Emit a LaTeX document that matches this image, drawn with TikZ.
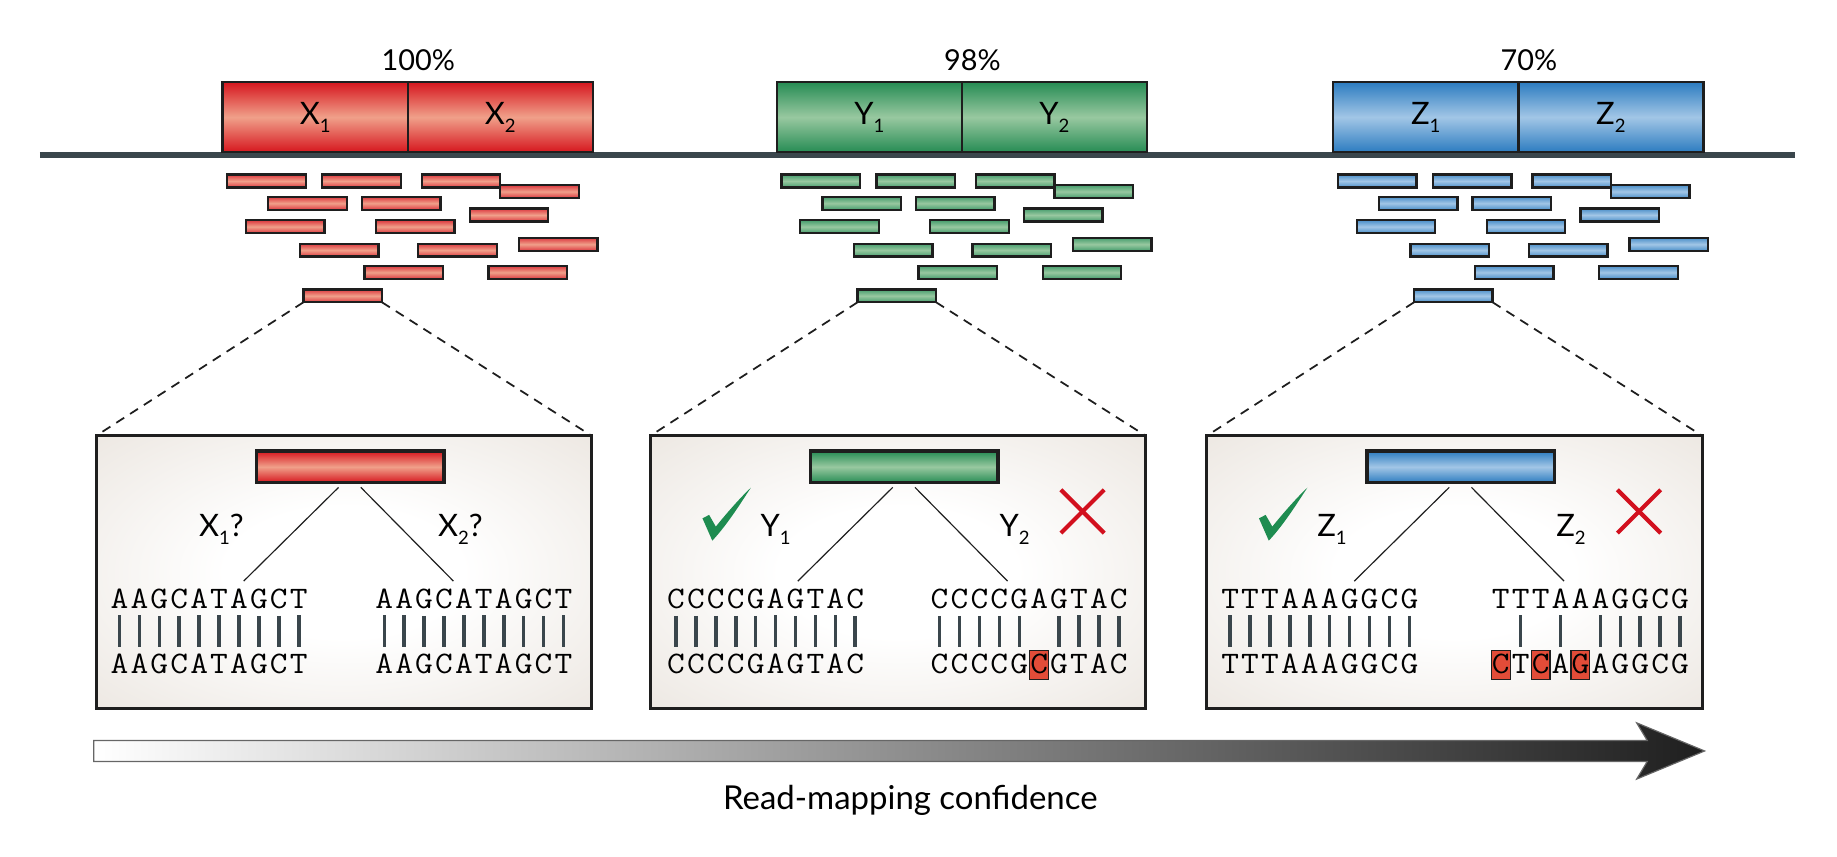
\documentclass[tikz,border=0pt]{standalone}
\usepackage{fontspec}
\setmainfont{Lato}

\definecolor{redD}{RGB}{214,22,30}
\definecolor{redL}{RGB}{240,160,138}
\definecolor{greenD}{RGB}{38,140,84}
\definecolor{greenL}{RGB}{152,200,160}
\definecolor{blueD}{RGB}{44,124,192}
\definecolor{blueL}{RGB}{162,198,230}
\definecolor{edge}{RGB}{30,30,30}
\definecolor{linegray}{RGB}{58,70,76}
\definecolor{panelbg}{RGB}{226,218,209}
\definecolor{okgreen}{RGB}{30,140,80}
\definecolor{badred}{RGB}{210,16,30}
\definecolor{mismatch}{RGB}{226,76,56}

\pgfdeclareradialshading{panelglow}{\pgfpoint{0bp}{0bp}}{color(0bp)=(white); color(12bp)=(white); color(50bp)=(panelbg); color(75bp)=(panelbg)}

\newcommand\lbsub[1]{\raisebox{-0.25em}{\fontsize{9}{9}\selectfont #1}}
% one aligned pair of sequences: name, x of first letter, upper, lower, columns with a bar
\newcommand\seqpair[5]{%
  \foreach \c [count=\i] in {#3}
    \node[nt] (#1u\i) at (#2+17*\i-17,519.5) {\scalebox{1.1}[1]{\c}};
  \foreach \c [count=\i] in {#4}
    \node[nt] (#1d\i) at (#2+17*\i-17,575) {\scalebox{1.1}[1]{\c}};
  \foreach \i in {#5}
    \draw[pair] (#1u\i.south) -- (#1d\i.north);
}

\tikzset{
  gfill/.style={top color=#1D, bottom color=#1D, middle color=#1L},
  readfill/.style={top color=#1D!85, bottom color=#1D!85, middle color=#1L},
  genebox/.style={draw=edge, line width=0.4mm, minimum width=31.6mm, minimum height=12mm,
    inner sep=0pt, outer sep=0pt, anchor=north west, font=\fontsize{15}{18}\selectfont},
  readbox/.style={draw=edge, line width=0.4mm, minimum width=13.4mm, minimum height=2.2mm,
    inner sep=0pt, outer sep=0pt, anchor=north west},
  bigread/.style={draw=edge, line width=0.6mm, minimum width=32mm, minimum height=5.4mm,
    inner sep=0pt, outer sep=0pt},
  panel/.style={draw=edge, line width=0.5mm, shade, shading=panelglow, minimum width=84.6mm,
    minimum height=46.6mm, inner sep=0pt, outer sep=0pt, anchor=north west},
  genome/.style={draw=linegray, line width=1mm},
  zoomline/.style={draw=edge, line width=0.3mm, dash pattern=on 1.6mm off 1.2mm},
  branch/.style={draw=edge, line width=0.2mm},
  pair/.style={draw=linegray, line width=0.6mm, shorten <=1.1mm, shorten >=1.2mm},
  nt/.style={anchor=base, inner sep=0pt, font=\fontsize{15.2}{17}\ttfamily},
  lab/.style={anchor=base, inner sep=0pt, font=\fontsize{15}{18}\selectfont},
  misbox/.style={fill=mismatch, draw=edge, line width=0.2mm},
  cross/.style={draw=badred, line width=0.7mm},
  tick/.style={fill=okgreen},
  confarrow/.style={left color=white, right color=black!88, draw=black!60, line width=0.2mm}
}

\begin{document}
\begin{tikzpicture}[x=0.2mm, y=-0.2mm]
\useasboundingbox (0,0) rectangle (1568,731);

% reference genome
\coordinate (gL) at (34,132);
\coordinate (gR) at (1532,132);
\draw[genome] (gL) -- (gR);

\foreach \col/\off/\pct/\gene/\qm in {red/0/100/X/?, green/473/98/Y/{}, blue/948/70/Z/{}} {
  % repeat copies
  \node[genebox, gfill=\col] (\gene1) at (\off+190,70) {\gene\lbsub{1}};
  \node[genebox, gfill=\col] (\gene2) at (\gene1.north east) {\gene\lbsub{2}};
  \node[lab, font=\fontsize{14}{16}\selectfont] (pct\gene) at (\off+357,60) {\pct\%};
  % reads
  \foreach \rx/\ry [count=\k] in {194/149, 275/149, 360/149, 427/158, 229/168, 309/168,
      401/178, 210/188, 321/188, 443/203, 256/208, 357/208, 311/227, 417/227}
    \node[readbox, readfill=\col] (r\gene\k) at (\off+\rx,\ry) {};
  \node[readbox, readfill=\col] (sel\gene) at (\off+259,247) {};
  % close-up of one read
  \node[panel] (pan\gene) at (\off+82,372) {};
  \draw[zoomline] (sel\gene.south west) -- (pan\gene.north west);
  \draw[zoomline] (sel\gene.south east) -- (pan\gene.north east);
  \node[bigread, gfill=\col] (big\gene) at (\off+299,398.5) {};
  \coordinate (bl\gene) at (\off+289,416);
  \coordinate (br\gene) at (\off+308,416);
  \coordinate (hl\gene) at (\off+208,496);
  \coordinate (hr\gene) at (\off+387,496);
  \draw[branch] (bl\gene) -- (hl\gene);
  \draw[branch] (br\gene) -- (hr\gene);
  \node[lab] (ll\gene) at (\off+189,458) {\gene\lbsub{1}\qm};
  \node[lab] (lr\gene) at (\off+393,458) {\gene\lbsub{2}\qm};
}

% right and wrong hits
\foreach \off in {473,948} {
  \fill[tick, shift={(\off+147,438.5)}] (-20.4,3.9) -- (-14.7,1) -- (-9,11)
    .. controls (-1,1) and (12,-14) .. (21,-22.3)
    .. controls (14,-12) and (2,8) .. (-12,23) -- cycle;
  \draw[cross] (\off+432.5,418) -- (\off+469.5,455);
  \draw[cross] (\off+469.5,418) -- (\off+432.5,455);
}

% alignments
\seqpair{xl}{102}{A,A,G,C,A,T,A,G,C,T}{A,A,G,C,A,T,A,G,C,T}{1,...,10}
\seqpair{xr}{328}{A,A,G,C,A,T,A,G,C,T}{A,A,G,C,A,T,A,G,C,T}{1,...,10}

\seqpair{yl}{577}{C,C,C,C,G,A,G,T,A,C}{C,C,C,C,G,A,G,T,A,C}{1,...,10}
\draw[misbox] (879,555) rectangle ++(16,25);
\seqpair{yr}{802}{C,C,C,C,G,A,G,T,A,C}{C,C,C,C,G,C,G,T,A,C}{1,2,3,4,5,7,8,9,10}

\seqpair{zl}{1050}{T,T,T,A,A,A,G,G,C,G}{T,T,T,A,A,A,G,G,C,G}{1,...,10}
\foreach \p in {1,3,5}
  \draw[misbox] (1281+17*\p-25,555) rectangle ++(16,25);
\seqpair{zr}{1281}{T,T,T,A,A,A,G,G,C,G}{C,T,C,A,G,A,G,G,C,G}{2,4,6,7,8,9,10}

% confidence arrow
\shadedraw[confarrow] (80,632) -- (1406,632) -- (1397,617) -- (1455,641) -- (1397,665)
  -- (1406,650) -- (80,650) -- cycle;
\node[lab, font=\fontsize{16}{19}\selectfont] (conf) at (777,691) {Read-mapping confidence};
\end{tikzpicture}
\end{document}
